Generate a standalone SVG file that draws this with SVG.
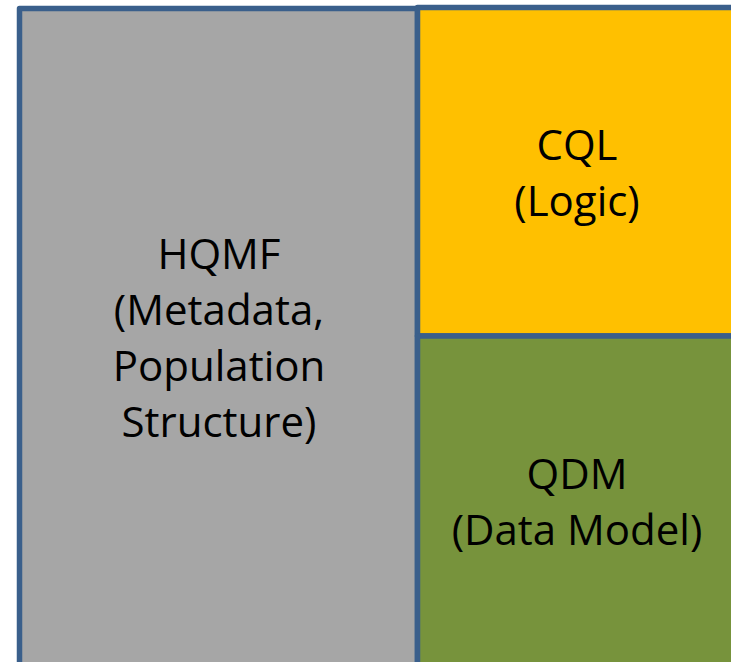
<svg xmlns="http://www.w3.org/2000/svg" width="731" height="662" viewBox="0 0 731 662">
<style>
.box{stroke:#3A5F8B;stroke-width:5.5;stroke-linejoin:round}
.lbl{font-family:"Open Sans","Liberation Sans",sans-serif;font-size:42px;fill:#000;text-anchor:middle}
</style>
<rect width="731" height="662" fill="#FFFFFF"/>
<g id="hqmf">
<rect class="box" x="19.5" y="8.5" width="398" height="670" fill="#A6A6A6"/>
<text class="lbl" x="219" y="269">HQMF</text>
<text class="lbl" x="219" y="325">(Metadata,</text>
<text class="lbl" x="219" y="381">Population</text>
<text class="lbl" x="219" y="437">Structure)</text>
</g>
<g id="cql">
<rect class="box" x="417.5" y="7.5" width="330" height="328.5" fill="#FFC000"/>
<text class="lbl" x="577" y="160">CQL</text>
<text class="lbl" x="577" y="216">(Logic)</text>
</g>
<g id="qdm">
<rect class="box" x="417.5" y="336" width="330" height="340" fill="#77933C"/>
<text class="lbl" x="577" y="489">QDM</text>
<text class="lbl" x="577" y="545">(Data Model)</text>
</g>
<g id="connectors"></g>
</svg>
